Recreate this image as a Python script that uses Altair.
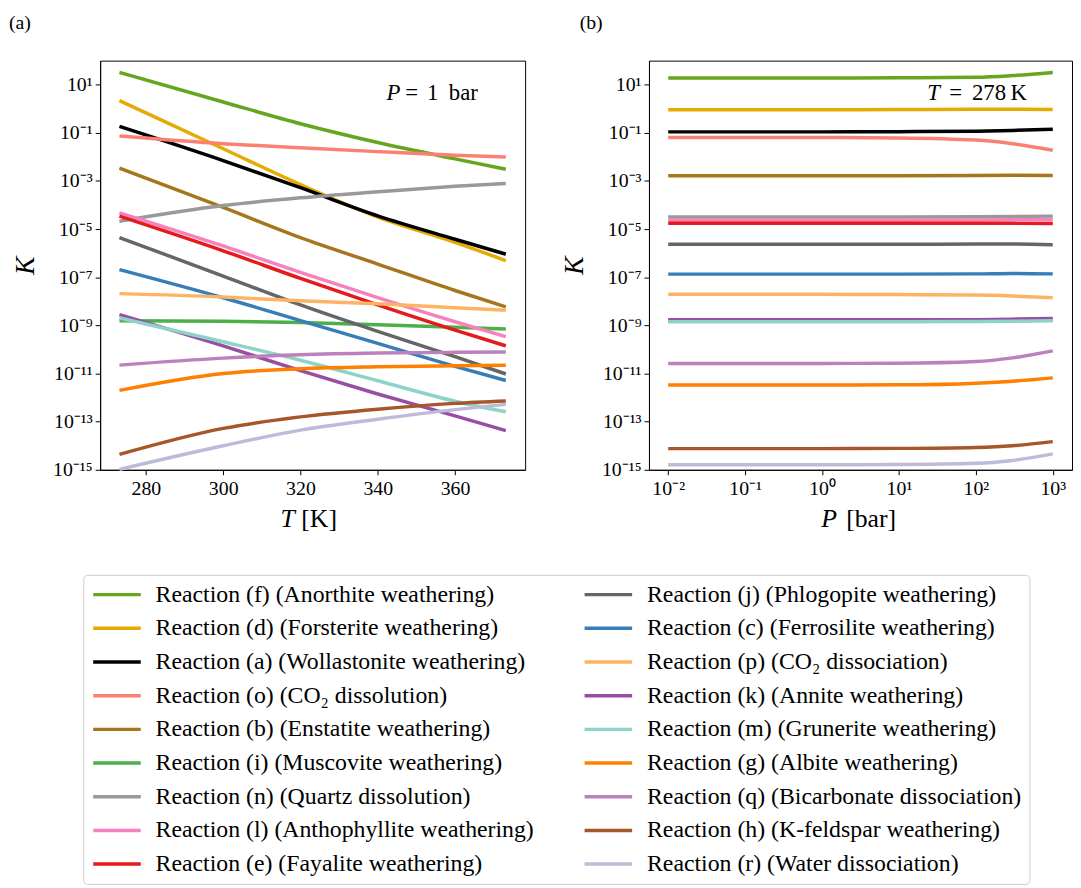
import math
import altair as alt
import pandas as pd

FONT = "Liberation Serif"

# ---------------- data ----------------
codes = ["f", "d", "a", "o", "b", "i", "n", "l", "e",
         "j", "c", "p", "k", "m", "g", "q", "h", "r"]
labels = [
    "Reaction (f) (Anorthite weathering)",
    "Reaction (d) (Forsterite weathering)",
    "Reaction (a) (Wollastonite weathering)",
    "Reaction (o) (CO\u2082 dissolution)",
    "Reaction (b) (Enstatite weathering)",
    "Reaction (i) (Muscovite weathering)",
    "Reaction (n) (Quartz dissolution)",
    "Reaction (l) (Anthophyllite weathering)",
    "Reaction (e) (Fayalite weathering)",
    "Reaction (j) (Phlogopite weathering)",
    "Reaction (c) (Ferrosilite weathering)",
    "Reaction (p) (CO\u2082 dissociation)",
    "Reaction (k) (Annite weathering)",
    "Reaction (m) (Grunerite weathering)",
    "Reaction (g) (Albite weathering)",
    "Reaction (q) (Bicarbonate dissociation)",
    "Reaction (h) (K-feldspar weathering)",
    "Reaction (r) (Water dissociation)",
]
colors = ["#66a61e", "#e6ab02", "#000000", "#fb8072", "#a6761d", "#4daf4a",
          "#999999", "#f781bf", "#e41a1c", "#666666", "#377eb8", "#fdb462",
          "#984ea3", "#8dd3c7", "#ff7f00", "#bc80bd", "#a65628", "#bebada"]

# panel (a): log10 K at these temperatures (P = 1 bar)
T_pts = [273.15, 300, 320, 340, 360, 373.15]
logK_T = {
    "f": [1.51, 0.28, -0.62, -1.40, -2.08, -2.51],
    "d": [0.34, -1.66, -3.15, -4.50, -5.55, -6.31],
    "a": [-0.73, -2.15, -3.28, -4.45, -5.42, -6.04],
    "o": [-1.13, -1.45, -1.62, -1.78, -1.93, -2.00],
    "b": [-2.47, -4.10, -5.35, -6.45, -7.55, -8.23],
    "i": [-8.81, -8.83, -8.88, -8.97, -9.08, -9.15],
    "n": [-4.67, -4.02, -3.70, -3.45, -3.22, -3.10],
    "l": [-4.32, -5.70, -6.80, -7.85, -8.85, -9.47],
    "e": [-4.46, -5.90, -7.05, -8.15, -9.20, -9.85],
    "j": [-5.35, -6.95, -8.15, -9.25, -10.30, -11.02],
    "c": [-6.68, -7.85, -8.80, -9.75, -10.70, -11.29],
    "p": [-7.68, -7.82, -7.98, -8.10, -8.27, -8.37],
    "k": [-8.55, -9.85, -10.88, -11.85, -12.76, -13.37],
    "m": [-8.69, -9.68, -10.45, -11.30, -12.15, -12.59],
    "g": [-11.70, -11.00, -10.80, -10.72, -10.68, -10.66],
    "q": [-10.65, -10.36, -10.22, -10.15, -10.12, -10.11],
    "h": [-14.36, -13.28, -12.80, -12.48, -12.24, -12.14],
    "r": [-14.98, -14.00, -13.35, -12.90, -12.50, -12.28],
}

# panel (b): log10 K at these pressures (T = 278 K)
P_pts = [0.01, 0.1, 1, 10, 100, 300, 1000]
logK_P = {
    "f": [1.28, 1.28, 1.28, 1.29, 1.31, 1.38, 1.51],
    "d": [-0.04, -0.04, -0.04, -0.03, -0.02, -0.02, -0.03],
    "a": [-0.96, -0.96, -0.96, -0.95, -0.93, -0.90, -0.85],
    "o": [-1.19, -1.19, -1.19, -1.21, -1.30, -1.45, -1.72],
    "b": [-2.78, -2.78, -2.78, -2.78, -2.77, -2.76, -2.77],
    "i": [-8.82, -8.82, -8.82, -8.82, -8.81, -8.80, -8.78],
    "n": [-4.50, -4.50, -4.50, -4.50, -4.49, -4.48, -4.46],
    "l": [-4.63, -4.63, -4.63, -4.63, -4.62, -4.61, -4.60],
    "e": [-4.76, -4.76, -4.76, -4.76, -4.76, -4.76, -4.77],
    "j": [-5.63, -5.63, -5.63, -5.63, -5.62, -5.62, -5.65],
    "c": [-6.87, -6.87, -6.87, -6.87, -6.86, -6.84, -6.86],
    "p": [-7.71, -7.71, -7.71, -7.72, -7.74, -7.78, -7.85],
    "k": [-8.77, -8.77, -8.77, -8.77, -8.76, -8.74, -8.71],
    "m": [-8.85, -8.85, -8.85, -8.85, -8.84, -8.83, -8.81],
    "g": [-11.48, -11.48, -11.48, -11.47, -11.40, -11.32, -11.18],
    "q": [-10.58, -10.58, -10.58, -10.57, -10.50, -10.35, -10.06],
    "h": [-14.12, -14.12, -14.12, -14.11, -14.07, -14.00, -13.83],
    "r": [-14.79, -14.79, -14.79, -14.78, -14.73, -14.61, -14.34],
}

y_ticks = [1e1, 1e-1, 1e-3, 1e-5, 1e-7, 1e-9, 1e-11, 1e-13, 1e-15]
y_tick_labels = ["10\u00b9", "10\u207b\u00b9", "10\u207b\u00b3", "10\u207b\u2075",
                 "10\u207b\u2077", "10\u207b\u2079", "10\u207b\u00b9\u00b9",
                 "10\u207b\u00b9\u00b3", "10\u207b\u00b9\u2075"]
T_ticks = [280, 300, 320, 340, 360]
P_ticks = [1e-2, 1e-1, 1e0, 1e1, 1e2, 1e3]
P_tick_labels = ["10\u207b\u00b2", "10\u207b\u00b9", "10\u2070", "10\u00b9",
                 "10\u00b2", "10\u00b3"]

# ---------------- tables ----------------
lab = dict(zip(codes, labels))
rows_T, rows_P = [], []
for order, c in enumerate(codes):
    for t, v in zip(T_pts, logK_T[c]):
        rows_T.append({"T": t, "K": 10 ** v, "reaction": lab[c], "o": order})
    for p, v in zip(P_pts, logK_P[c]):
        rows_P.append({"P": p, "K": 10 ** v, "reaction": lab[c], "o": order})
dfT = pd.DataFrame(rows_T)
dfP = pd.DataFrame(rows_P)


def log_label_expr(vals, labs):
    expr = "''"
    for v, l in reversed(list(zip(vals, labs))):
        expr = f"abs(log(datum.value)/LN10 - ({math.log10(v):.3f})) < 0.05 ? '{l}' : " + expr
    return expr


W, H = 429, 413
Y_DOMAIN = [1e-15, 10 ** 2.0]

color_enc = alt.Color(
    "reaction:N",
    scale=alt.Scale(domain=labels, range=colors),
    legend=alt.Legend(
        orient="none", legendX=-17, legendY=519, columns=2, title=None,
        direction="vertical",
        symbolType="M-2,0L7.6,0", symbolSize=100, symbolStrokeWidth=3.5,
        symbolFillColor="transparent",
        labelFont=FONT, labelFontSize=24, labelLimit=0, labelColor="black",
        rowPadding=10, columnPadding=44, labelOffset=41, padding=8,
        strokeColor="#cccccc", fillColor="white", cornerRadius=4,
    ),
)

y_enc_axis = alt.Axis(
    values=y_ticks, labelExpr=log_label_expr(y_ticks, y_tick_labels),
    title="K", titleFont=FONT, titleFontStyle="italic", titleFontWeight="normal",
    titleFontSize=28, titleColor="black", titlePadding=13,
    labelFont=FONT, labelFontSize=20, labelColor="black", labelPadding=3,
    tickSize=5, tickColor="black", domainColor="black", grid=False,
    labelFlush=False, labelOverlap=False,
)


def txt(s, x, y, size, style="normal", align="left", baseline="alphabetic"):
    return alt.Chart(pd.DataFrame({"s": [s]})).mark_text(
        align=align, baseline=baseline, fontSize=size, fontStyle=style,
        font=FONT, color="black"
    ).encode(x=alt.value(x), y=alt.value(y), text="s:N")


lines_T = alt.Chart(dfT).mark_line(strokeWidth=3.5, interpolate="monotone").encode(
    x=alt.X("T:Q", scale=alt.Scale(domain=[268.15, 378.15], nice=False, zero=False),
            axis=alt.Axis(values=T_ticks, title=None, labelFont=FONT, labelFontSize=20,
                          labelColor="black", tickSize=5, tickColor="black",
                          domainColor="black", grid=False, labelPadding=4)),
    y=alt.Y("K:Q", scale=alt.Scale(type="log", domain=Y_DOMAIN, nice=False),
            axis=y_enc_axis),
    color=color_enc,
    order=alt.Order("o:Q"),
    detail="o:Q",
)

left = alt.layer(
    lines_T,
    txt("P", 289, 40, 23, "italic"),
    txt("=", 308, 40, 23),
    txt("1", 330, 40, 23),
    txt("bar", 352, 40, 23),
    txt("T", 182, 471, 26, "italic"),
    txt("[K]", 203, 471, 26),
    txt("(a)", -92, -48, 20, baseline="top"),
).properties(width=W, height=H)

lines_P = alt.Chart(dfP).mark_line(strokeWidth=3.5, interpolate="monotone").encode(
    x=alt.X("P:Q", scale=alt.Scale(type="log", domain=[10 ** -2.25, 10 ** 3.25], nice=False),
            axis=alt.Axis(values=P_ticks, labelExpr=log_label_expr(P_ticks, P_tick_labels),
                          title=None, labelFont=FONT, labelFontSize=20,
                          labelColor="black", tickSize=5, tickColor="black",
                          domainColor="black", grid=False, labelPadding=4,
                          labelFlush=False, labelOverlap=False)),
    y=alt.Y("K:Q", scale=alt.Scale(type="log", domain=Y_DOMAIN, nice=False),
            axis=y_enc_axis),
    color=color_enc,
    order=alt.Order("o:Q"),
    detail="o:Q",
)

right = alt.layer(
    lines_P,
    txt("T", 281, 40, 23, "italic"),
    txt("=", 303, 40, 23),
    txt("278", 326, 40, 23),
    txt("K", 365, 40, 23),
    txt("P", 174, 471, 26, "italic"),
    txt("[bar]", 199, 471, 26),
    txt("(b)", -70, -48, 20, baseline="top"),
).properties(width=W - 2, height=H)

chart = alt.hconcat(left, right, spacing=34).resolve_scale(
    color="shared", y="independent", x="independent"
).properties(
    padding={"left": 0, "top": 0, "right": 0, "bottom": 0},
    background="white",
).configure_view(stroke="black", strokeWidth=1)

chart.save("out.html", embed_options={"renderer": "svg", "actions": False})
